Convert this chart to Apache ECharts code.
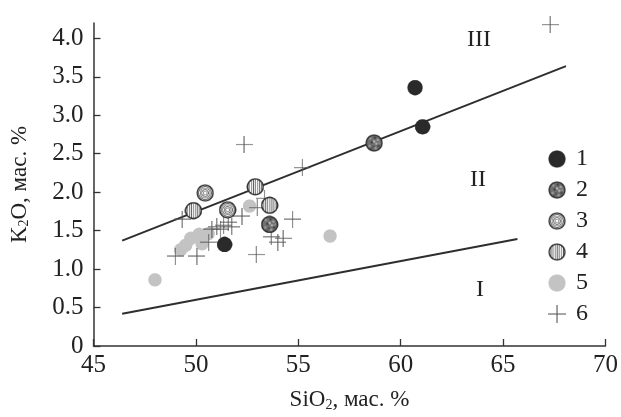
<!DOCTYPE html>
<html lang="ru">
<head>
<meta charset="UTF-8">
<title>K2O - SiO2</title>
<script src="https://cdn.jsdelivr.net/npm/echarts@6/dist/echarts.min.js"></script>
<style>
    html, body { margin: 0; padding: 0; background: #fff; }
    #chart { width: 621px; height: 417px; }
</style>
</head>
<body>
<div id="chart"></div>
<script>
// data: [SiO2, K2O]
var group1 = [[60.7, 3.36], [61.07, 2.85], [51.4, 1.32]];
var group2 = [[58.7, 2.64], [53.6, 1.58]];
var group3 = [[50.45, 1.99], [51.55, 1.77]];
var group4 = [[49.88, 1.76], [52.9, 2.07], [53.6, 1.83]];
var group5 = [[48.0, 0.86], [49.25, 1.25], [49.5, 1.31], [49.75, 1.40], [50.15, 1.45],
              [50.6, 1.46], [50.3, 1.33], [52.62, 1.82], [56.55, 1.43]];
var group6 = [[67.3, 4.18], [52.35, 2.62], [55.2, 2.32], [54.72, 1.65], [53.0, 1.80],
              [52.95, 1.19], [49.0, 1.17], [50.05, 1.17], [49.33, 1.65], [52.25, 1.69],
              [50.62, 1.35], [50.78, 1.52], [51.02, 1.55], [51.2, 1.52], [51.35, 1.57],
              [51.58, 1.61], [51.75, 1.55], [53.68, 1.42], [54.0, 1.35], [54.26, 1.40],
              [53.35, 1.92]];
var lineUpper = [[46.4, 1.37], [68.07, 3.64]];
var lineLower = [[46.4, 0.42], [65.7, 1.39]];
var yTicks = [0, 0.5, 1.0, 1.5, 2.0, 2.5, 3.0, 3.5, 4.0];
var legendNames = ['1', '2', '3', '4', '5', '6'];

var FONT = '"Liberation Serif", "DejaVu Serif", serif';

// marker pictures drawn on a canvas, used as image symbols
function makeIcon(kind) {
    var S = 48, c = document.createElement('canvas');
    c.width = S; c.height = S;
    var g = c.getContext('2d'), r = S / 2;
    function circle(rad) { g.beginPath(); g.arc(r, r, rad, 0, Math.PI * 2); }
    if (kind === 1) {
        circle(r - 1); g.fillStyle = '#2a2a2a'; g.fill();
    } else if (kind === 2) {
        circle(r - 3); g.fillStyle = '#6f6f6f'; g.fill();
        g.save(); circle(r - 3); g.clip();
        var spots = [[14,12,'#9a9a9a'],[26,10,'#444'],[34,16,'#a5a5a5'],[18,22,'#3f3f3f'],
                     [30,26,'#b0b0b0'],[12,32,'#9a9a9a'],[22,34,'#555'],[36,32,'#4a4a4a'],
                     [24,20,'#bdbdbd'],[28,38,'#a0a0a0'],[16,40,'#505050'],[38,24,'#8a8a8a']];
        spots.forEach(function (p) {
            g.beginPath(); g.arc(p[0], p[1], 3.2, 0, Math.PI * 2); g.fillStyle = p[2]; g.fill();
        });
        g.restore();
        circle(r - 3); g.lineWidth = 4; g.strokeStyle = '#333'; g.stroke();
    } else if (kind === 3) {
        circle(r - 3); g.fillStyle = '#fff'; g.fill();
        g.strokeStyle = '#666'; g.lineWidth = 2.2;
        [17, 13, 9, 5].forEach(function (rad) { circle(rad); g.stroke(); });
        circle(r - 3); g.lineWidth = 4; g.strokeStyle = '#333'; g.stroke();
    } else if (kind === 4) {
        circle(r - 3); g.fillStyle = '#fff'; g.fill();
        g.save(); circle(r - 3); g.clip();
        g.strokeStyle = '#555'; g.lineWidth = 2.2;
        for (var x = 8; x < S - 4; x += 5.5) {
            g.beginPath(); g.moveTo(x, 0); g.lineTo(x, S); g.stroke();
        }
        g.restore();
        circle(r - 3); g.lineWidth = 4; g.strokeStyle = '#333'; g.stroke();
    } else if (kind === 5) {
        circle(r - 1); g.fillStyle = '#c3c3c3'; g.fill();
    } else {
        g.strokeStyle = '#555'; g.lineWidth = 2.6;
        g.beginPath(); g.moveTo(0, r); g.lineTo(S, r); g.moveTo(r, 0); g.lineTo(r, S); g.stroke();
    }
    return 'image://' + c.toDataURL();
}

var icons = [1, 2, 3, 4, 5, 6].map(makeIcon);

function scatter(name, data, idx, size, z) {
    return {
        name: name, type: 'scatter', data: data,
        symbol: icons[idx], symbolSize: size, z: z,
        itemStyle: { opacity: 1 }
    };
}
function line(data) {
    return {
        type: 'line', data: data, symbol: 'none', silent: true, z: 1,
        lineStyle: { color: '#2e2e2e', width: 2 }
    };
}

var myChart = echarts.init(document.getElementById('chart'));
myChart.setOption({
    animation: false,
    backgroundColor: '#fff',
    textStyle: { fontFamily: FONT },
    grid: { left: 89, right: 13, top: 23, bottom: 71, containLabel: false },
    legend: {
        orient: 'vertical', left: 543, top: 142,
        itemWidth: 18, itemHeight: 18, itemGap: 7,
        data: legendNames,
        textStyle: { fontFamily: FONT, fontSize: 24, color: '#222', padding: [0, 0, 0, 5] }
    },
    xAxis: {
        type: 'value', min: 45, max: 70, interval: 5,
        name: 'SiO{s|2}, мас. %', nameLocation: 'middle', nameGap: 42,
        nameTextStyle: {
            fontFamily: FONT, fontSize: 23, color: '#222',
            rich: { s: { fontFamily: FONT, fontSize: 14, color: '#222', verticalAlign: 'bottom', padding: [10, 0, 0, 0] } }
        },
        axisLine: { lineStyle: { color: '#333', width: 1.5 } },
        axisTick: { inside: true, length: 7, lineStyle: { color: '#333', width: 1.3 } },
        axisLabel: { fontFamily: FONT, fontSize: 25, color: '#222', margin: 7 },
        splitLine: { show: false }
    },
    yAxis: {
        type: 'value', min: 0, max: 4.2,
        name: 'K{s|2}O, мас. %', nameLocation: 'middle', nameGap: 62, nameRotate: 90,
        nameTextStyle: {
            fontFamily: FONT, fontSize: 23, color: '#222',
            rich: { s: { fontFamily: FONT, fontSize: 14, color: '#222', verticalAlign: 'bottom', padding: [10, 0, 0, 0] } }
        },
        axisLine: { show: true, lineStyle: { color: '#333', width: 1.5 } },
        axisTick: { show: true, inside: true, length: 7, customValues: yTicks, lineStyle: { color: '#333', width: 1.3 } },
        axisLabel: {
            fontFamily: FONT, fontSize: 25, color: '#222', margin: 10, customValues: yTicks,
            formatter: function (v) { return v === 0 ? '0' : v.toFixed(1); }
        },
        splitLine: { show: false }
    },
    graphic: [
        { type: 'text', left: 467, top: 28, style: { text: 'III', font: '24px ' + FONT, fill: '#222' } },
        { type: 'text', left: 470, top: 168, style: { text: 'II', font: '24px ' + FONT, fill: '#222' } },
        { type: 'text', left: 476, top: 278, style: { text: 'I', font: '24px ' + FONT, fill: '#222' } }
    ],
    series: [
        scatter('1', group1, 0, 16, 5),
        scatter('2', group2, 1, 18, 5),
        scatter('3', group3, 2, 18, 5),
        scatter('4', group4, 3, 18, 5),
        scatter('5', group5, 4, 14, 3),
        scatter('6', group6, 5, 17, 4),
        line(lineUpper),
        line(lineLower)
    ]
});
</script>
</body>
</html>
